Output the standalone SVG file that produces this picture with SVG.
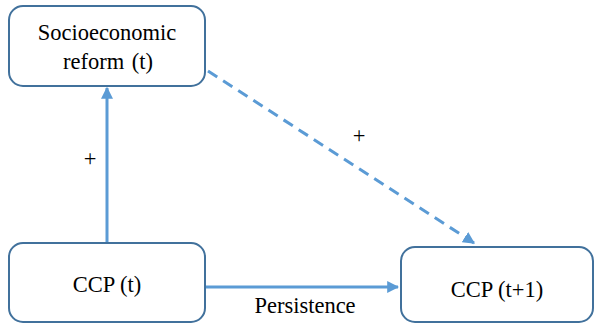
<svg xmlns="http://www.w3.org/2000/svg" width="596" height="326" viewBox="0 0 596 326">
<style>
.box{fill:#fff;stroke:#41719C;stroke-width:2}
.t{font-family:"Liberation Serif","Times New Roman",serif;font-size:22.5px;fill:#000;text-anchor:middle}
.c{stroke:#5B9BD5;stroke-width:3;fill:none}
</style>
<defs>
<marker id="ah" viewBox="0 0 10 10" refX="9" refY="5" markerWidth="4" markerHeight="4" orient="auto" markerUnits="strokeWidth">
<path d="M0,0 L10,5 L0,10 Z" fill="#5B9BD5"/>
</marker>
</defs>
<g id="connectors">
<line class="c" x1="107" y1="242" x2="107" y2="88" marker-end="url(#ah)"/>
<line class="c" x1="206" y1="287" x2="398" y2="287" marker-end="url(#ah)"/>
<line class="c" x1="208" y1="71" x2="474" y2="243" stroke-dasharray="11,7" marker-end="url(#ah)"/>
<text class="t" x="90" y="166">+</text>
<text class="t" x="359" y="143">+</text>
<text class="t" x="305" y="313">Persistence</text>
</g>
<g id="reform">
<rect class="box" x="9" y="6" width="196" height="80" rx="14"/>
<text class="t" x="107" y="40">Socioeconomic</text>
<text class="t" x="108" y="69" word-spacing="2">reform (t)</text>
</g>
<g id="ccp_t">
<rect class="box" x="9" y="243" width="196" height="79" rx="14"/>
<text class="t" x="107" y="292">CCP (t)</text>
</g>
<g id="ccp_t1">
<rect class="box" x="401" y="247" width="192" height="75" rx="14"/>
<text class="t" x="497" y="297">CCP (t+1)</text>
</g>
</svg>
